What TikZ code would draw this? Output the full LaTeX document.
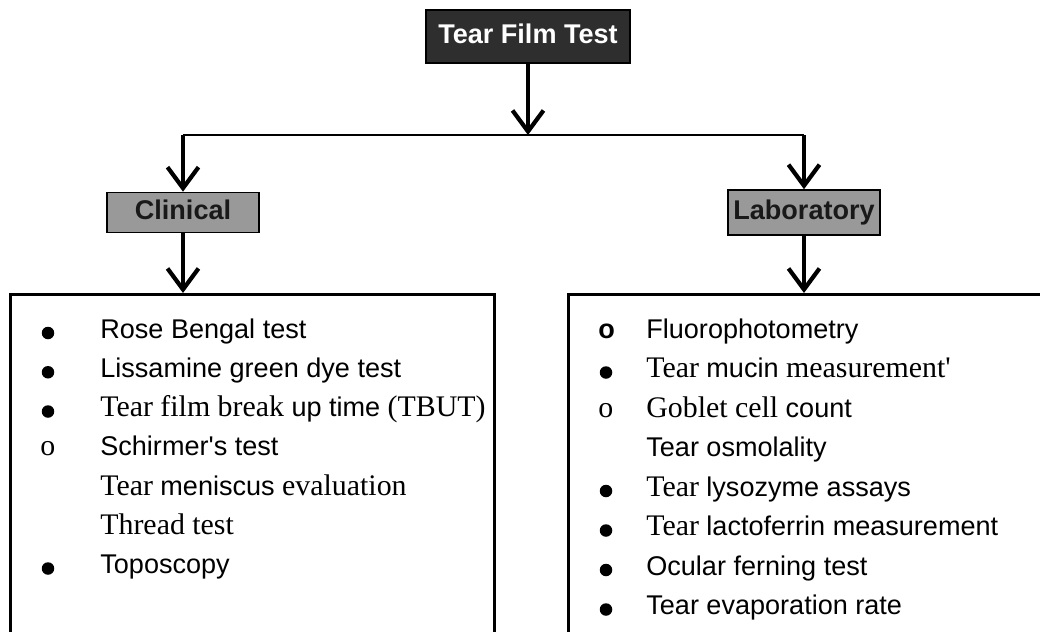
\documentclass[tikz,border=0pt]{standalone}
\usepackage{fontspec}
\setmainfont{Liberation Serif}[Ligatures=TeXOff]
\setsansfont{Liberation Sans}[Ligatures=TeXOff]
\usetikzlibrary{arrows.meta}
\newcommand{\sn}[1]{{\sffamily\fontsize{15.4}{18}\selectfont #1}}

\begin{document}
\begin{tikzpicture}[>={Straight Barb[length=0.42cm,width=0.62cm]},
  flow/.style={->, line width=2.4pt},
  branch/.style={line width=1.6pt},
  headbox/.style={draw=black, line width=0.9pt, inner sep=0pt, text height=11pt, text depth=3pt,
    font=\sffamily\bfseries\fontsize{15.4}{18}\selectfont},
  listbox/.style={draw, line width=1.5pt, anchor=north west, inner sep=0pt},
  dot/.style={circle, fill, inner sep=0pt, minimum size=0.25cm},
  item/.style={anchor=base west, inner sep=0pt, font=\fontsize{17}{20}\selectfont}]
  \useasboundingbox (0,0) rectangle (20.8,-12.64);
  \clip (0,0) rectangle (20.8,-12.64);
  % Heads
  \node[headbox, fill=black!82, text=white, minimum width=4.08cm, minimum height=1.06cm] (title) at (10.56,-0.73) {Tear Film Test};
  \node[headbox, fill=black!40, text=black!90, minimum width=3.04cm, minimum height=0.8cm] (clinical) at (3.66,-4.25) {Clinical};
  \node[headbox, fill=black!40, text=black!90, minimum width=3.04cm, minimum height=0.9cm] (lab) at (16.08,-4.25) {Laboratory};
  % Boxes for the two lists, open at the bottom
  \node[listbox, minimum width=9.68cm, minimum height=8cm] (clinlist) at (0.18,-5.86) {};
  \node[listbox, minimum width=10cm, minimum height=8cm] (lablist) at (11.34,-5.86) {};
  % Arrows
  \coordinate (split) at (title.south |- 0,-2.7);
  \draw[flow] (title) -- (split);
  \draw[branch] (split -| clinical) -- (split -| lab);
  \draw[flow] (split -| clinical) -- (clinical);
  \draw[flow] (split -| lab) -- (lab);
  \draw[flow] (clinical) -- (clinical |- clinlist.north);
  \draw[flow] (lab) -- (lab |- lablist.north);
  % Clinical tests
  \foreach \t [count=\i from 0] in {{\sn{Rose Bengal test}}, {\sn{Lissamine green dye test}},
      {Tear film break \sn{up time} (TBUT)}, {\sn{Schirmer's test}},
      {Tear \sn{meniscus} evaluation}, {Thread test}, {\sn{Toposcopy}}}
    \node[item] (clin\i) at (2.0,{-6.76-0.785*\i}) {\t};
  \foreach \i in {0,1,2,6}
    \node[dot] (clindot\i) at (0.96,{-6.66-0.785*\i}) {};
  \node[item] (clindot3) at (0.8,{-6.76-0.785*3}) {o};
  % Laboratory tests
  \foreach \t [count=\i from 0] in {{\sn{Fluorophotometry}}, {Tear \sn{mucin} measurement'},
      {Goblet cell \sn{count}}, {\sn{Tear osmolality}}, {Tear \sn{lysozyme assays}},
      {Tear \sn{lactoferrin measurement}}, {\sn{Ocular ferning test}}, {\sn{Tear evaporation rate}}}
    \node[item] (labt\i) at (12.92,{-6.76-0.79*\i}) {\t};
  \foreach \i in {1,4,5,6,7}
    \node[dot] (labdot\i) at (12.12,{-6.66-0.79*\i}) {};
  \node[item] (labdot0) at (11.96,-6.76) {\sn{\bfseries o}};
  \node[item] (labdot2) at (11.96,{-6.76-0.79*2}) {o};
\end{tikzpicture}
\end{document}
